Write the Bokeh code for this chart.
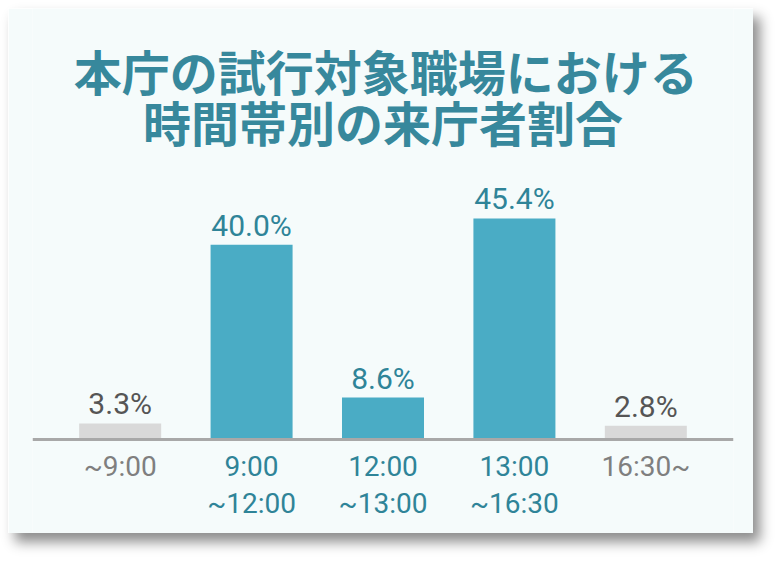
from bokeh.plotting import figure
from bokeh.models import Range1d, Span, ColumnDataSource
from bokeh.core.properties import value
from bokeh.embed import file_html
from bokeh.resources import INLINE

# ---- data ----
categories = ["~9:00", "9:00\n~12:00", "12:00\n~13:00", "13:00\n~16:30", "16:30~"]
shares = [3.3, 40.0, 8.6, 45.4, 2.8]
value_labels = ["3.3%", "40.0%", "8.6%", "45.4%", "2.8%"]
highlight = [False, True, True, True, False]
title_lines = ["本庁の試行対象職場における", "時間帯別の来庁者割合"]

# ---- styling ----
BAR_TEAL = "#4aacc5"
BAR_GRAY = "#d9d9d9"
TXT_TEAL = "#2f8498"
TXT_GRAY_VAL = "#555555"
TXT_GRAY_TICK = "#7f7f7f"
TITLE_COL = "#37889c"
CARD_BG = "#f5fbfb"

xs = list(range(len(categories)))
src = ColumnDataSource(dict(
    x=xs,
    top=shares,
    lab=value_labels,
    cat=categories,
    fill=[BAR_TEAL if h else BAR_GRAY for h in highlight],
    vcol=[TXT_TEAL if h else TXT_GRAY_VAL for h in highlight],
    tcol=[TXT_TEAL if h else TXT_GRAY_TICK for h in highlight],
))

p = figure(width=745, height=525, output_backend="svg", toolbar_location=None,
           x_range=Range1d(-0.667, 4.667), y_range=Range1d(-19.3, 88.5),
           min_border_left=24, min_border_right=20, min_border_top=0, min_border_bottom=0,
           background_fill_color=CARD_BG, border_fill_color=CARD_BG,
           styles={"box-shadow": "7px 9px 12px rgba(0,0,0,0.45)",
                   "margin-left": "8px", "margin-top": "8px"})
p.axis.visible = False
p.grid.visible = False
p.outline_line_color = None

p.vbar(x="x", top="top", bottom=0, width=0.624, fill_color="fill", line_color=None, source=src)

p.add_layout(Span(location=0, dimension="width", line_color="#a8a8a8", line_width=3))

p.text(x="x", y="top", text="lab", text_color="vcol", source=src,
       text_font=value("Roboto"), text_font_size="30px",
       text_align="center", text_baseline="bottom", y_offset=-2)

p.text(x="x", y=0, text="cat", text_color="tcol", source=src,
       text_font=value("Roboto"), text_font_size="28px",
       text_align="center", text_baseline="top", y_offset=10, text_line_height=1.15)

p.text(x=[2.02, 2.0], y=[75.9, 65.5], text=title_lines, text_color=TITLE_COL,
       text_font=value("Noto Sans CJK JP"), text_font_style="bold", text_font_size="48px",
       text_align="center", text_baseline="middle")

open("out.html", "w").write(file_html(p, INLINE))
